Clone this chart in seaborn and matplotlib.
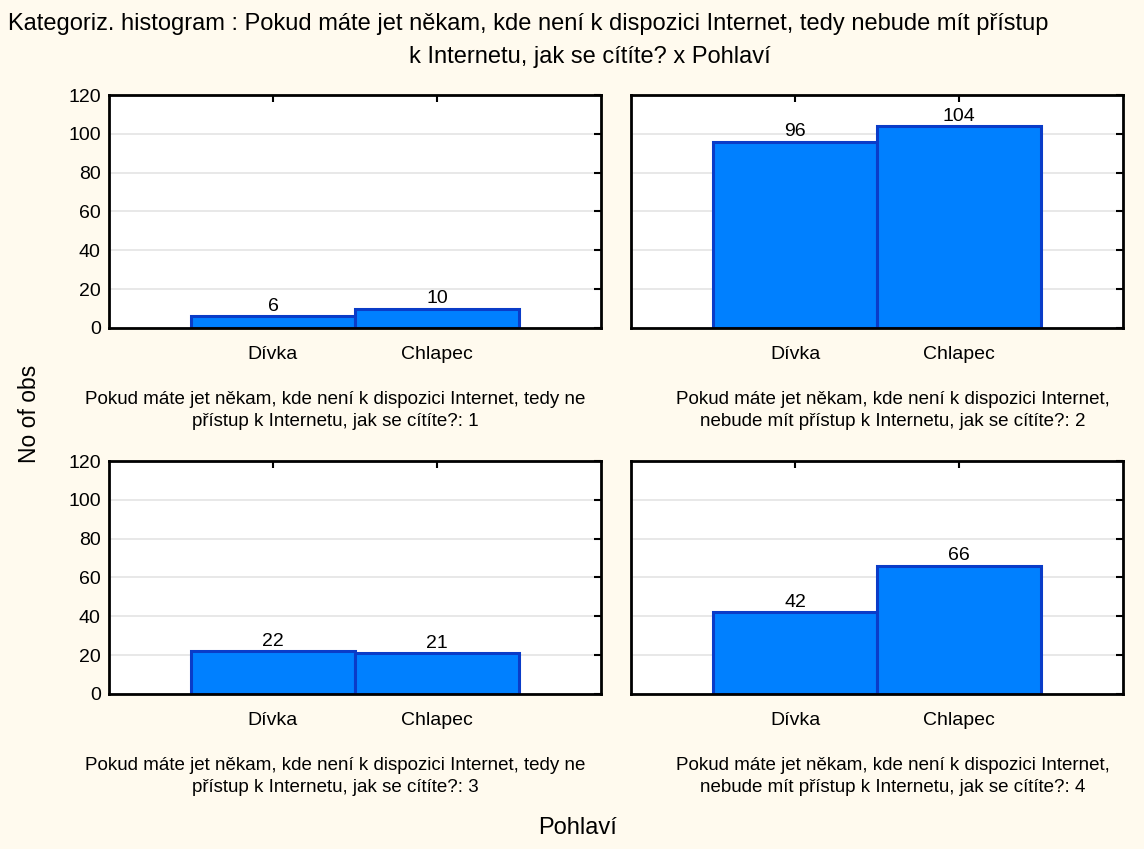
import matplotlib
matplotlib.use("Agg")
import matplotlib.pyplot as plt
import pandas as pd
import seaborn as sns

# data
categories = ["Dívka", "Chlapec"]
answers = [1, 2, 3, 4]
counts_divka = [6, 96, 22, 42]
counts_chlapec = [10, 104, 21, 66]

captions = [
    "Pokud máte jet někam, kde není k dispozici Internet, tedy ne\npřístup k Internetu, jak se cítíte?: 1",
    "Pokud máte jet někam, kde není k dispozici Internet,\nnebude mít přístup k Internetu, jak se cítíte?: 2",
    "Pokud máte jet někam, kde není k dispozici Internet, tedy ne\npřístup k Internetu, jak se cítíte?: 3",
    "Pokud máte jet někam, kde není k dispozici Internet,\nnebude mít přístup k Internetu, jak se cítíte?: 4",
]
title_line1 = "Kategoriz. histogram : Pokud máte jet někam, kde není k dispozici Internet, tedy nebude mít přístup"
title_line2 = "k Internetu, jak se cítíte? x Pohlaví"
yticks = [0, 20, 40, 60, 80, 100, 120]

df = pd.DataFrame({
    "odpoved": answers * 2,
    "pohlavi": [categories[0]] * 4 + [categories[1]] * 4,
    "pocet": counts_divka + counts_chlapec,
})

sns.set_theme(style="white")
plt.rcParams["font.family"] = ["Liberation Sans", "DejaVu Sans"]
plt.rcParams["text.color"] = "black"

bg = "#fffaee"
fig = plt.figure(figsize=(11.44, 8.49), dpi=100, facecolor=bg)

lefts = [0.0953, 0.5516]
bottoms = [0.6137, 0.1826]
w, h = 0.430, 0.2744

for i, ans in enumerate(answers):
    row, col = divmod(i, 2)
    ax = fig.add_axes([lefts[col], bottoms[row], w, h])
    ax.set_facecolor("white")
    sub = df[df["odpoved"] == ans]
    sns.barplot(data=sub, x="pohlavi", y="pocet", order=categories, width=1.0,
                color="#0080ff", saturation=1, edgecolor="#0a3cc8", linewidth=2.2, ax=ax)
    ax.bar_label(ax.containers[0], padding=1, fontsize=14, color="black")
    ax.set_xlim(-1, 2)
    ax.set_ylim(0, 120)
    ax.set_yticks(yticks)
    ax.yaxis.grid(True, color="#e4e4e4", linewidth=1.2)
    ax.set_axisbelow(True)
    ax.tick_params(direction="in", top=True, right=True, length=5, width=1.5,
                   labelsize=14, colors="black", pad=6)
    ax.tick_params(axis="x", pad=13)
    if col == 1:
        ax.set_yticklabels([])
    for s in ax.spines.values():
        s.set_color("black")
        s.set_linewidth(2)
    ax.set_xlabel("")
    ax.set_ylabel("")
    cx = lefts[col] + w / 2 + (-0.017 if col == 0 else 0.014)
    fig.text(cx, bottoms[row] - 0.074, captions[i], ha="center", va="top",
             fontsize=13.5, linespacing=1.4)

fig.text(8 / 1144, 1 - 24 / 849, title_line1, ha="left", va="center", fontsize=17)
fig.text(590 / 1144, 1 - 57 / 849, title_line2, ha="center", va="center", fontsize=17)
fig.text(30 / 1144, 1 - 414 / 849, "No of obs", rotation=90, ha="center", va="center", fontsize=16.5)
fig.text(577 / 1144, 1 - 828 / 849, "Pohlaví", ha="center", va="center", fontsize=17)

fig.savefig("out.png", dpi=100, facecolor=bg)
